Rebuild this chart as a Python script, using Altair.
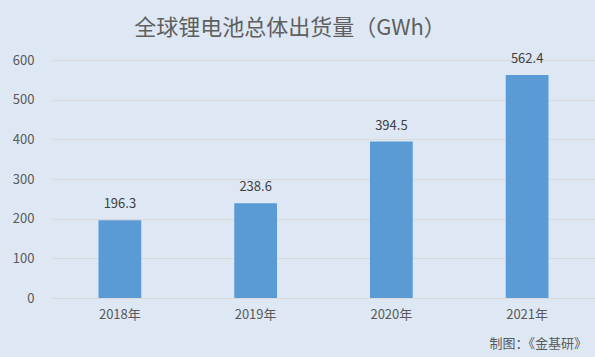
import altair as alt
import pandas as pd

years = ["2018年", "2019年", "2020年", "2021年"]
values = [196.3, 238.6, 394.5, 562.4]
y_ticks = [0, 100, 200, 300, 400, 500, 600]
title_text = "全球锂电池总体出货量（GWh）"
footer_text = "制图：《金基研》"

df = pd.DataFrame({"year": years, "value": values})
FONT = "Noto Sans CJK SC"

y_enc = alt.Y("value:Q", title=None,
              scale=alt.Scale(domain=[0, 600], nice=False),
              axis=alt.Axis(values=y_ticks, labelOverlap=False,
                            labelFont=FONT, labelFontSize=13, labelColor="#595959",
                            labelPadding=18, ticks=False, domain=False,
                            gridColor="#d9d9d9", gridWidth=1))

base = alt.Chart(df).encode(
    x=alt.X("year:N", sort=years, title=None,
            scale=alt.Scale(paddingInner=0.685, paddingOuter=0.3425),
            axis=alt.Axis(labelAngle=0, labelFont=FONT, labelFontSize=13,
                          labelColor="#595959", labelPadding=10, ticks=False,
                          domain=True, domainColor="#d9d9d9")),
    y=y_enc,
)

bars = base.mark_bar(color="#5b9bd5")

labels = base.mark_text(font=FONT, fontSize=13, color="#404040", dy=-16).encode(
    text=alt.Text("value:Q", format=".1f")
)

title = alt.Chart(pd.DataFrame({"t": [title_text]})).mark_text(
    font=FONT, fontSize=22, color="#5f5f5f", fontWeight="normal",
    align="center", baseline="middle"
).encode(x=alt.value(238), y=alt.value(-32), text="t:N")

footer = alt.Chart(pd.DataFrame({"t": [footer_text]})).mark_text(
    font=FONT, fontSize=13, color="#595959", align="right", baseline="middle"
).encode(x=alt.value(535), y=alt.value(284), text="t:N")

chart = alt.layer(bars, labels, title, footer).properties(
    width=543, height=238,
    background="#dee8f4",
    padding={"left": 52, "top": 60, "right": 0, "bottom": 59},
    autosize=alt.AutoSizeParams(type="none"),
).configure_view(stroke=None)

chart.save("out.html", embed_options={"renderer": "svg", "actions": False})
